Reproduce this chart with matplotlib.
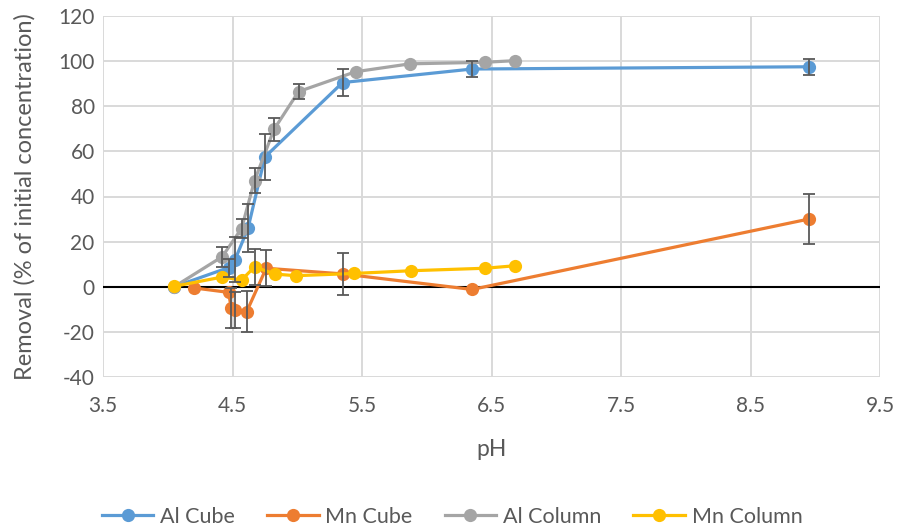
import matplotlib
matplotlib.use("Agg")
import matplotlib.pyplot as plt
from matplotlib.lines import Line2D

plt.rcParams['font.family'] = ['Lato', 'DejaVu Sans']
plt.rcParams['axes.unicode_minus'] = False

# pH values and removal (%) with standard deviations
al_cube_ph = [4.05, 4.47, 4.52, 4.62, 4.75, 5.35, 6.35, 8.95]
al_cube_rm = [0, 8.5, 12, 26, 57.5, 90.5, 96.5, 97.5]
al_cube_sd = [0, 4, 10, 10.5, 10, 6, 3.7, 3.5]

mn_cube_ph = [4.20, 4.47, 4.49, 4.52, 4.61, 4.76, 5.35, 6.35, 8.95]
mn_cube_rm = [-0.5, -2.5, -9.5, -10.3, -11, 8.2, 5.7, -1.2, 30]
mn_cube_sd = [0, 0, 9, 8, 9, 8, 9.3, 0, 11]

al_col_ph = [4.05, 4.42, 4.57, 4.67, 4.82, 5.01, 5.45, 5.87, 6.45, 6.68]
al_col_rm = [0, 13.3, 25.8, 47, 69.7, 86.5, 95.3, 98.8, 99.5, 100.2]
al_col_sd = [0, 4.5, 4.3, 5.5, 5, 3.5, 0, 0, 0, 0]

mn_col_ph = [4.05, 4.42, 4.57, 4.67, 4.83, 4.99, 5.44, 5.88, 6.45, 6.68]
mn_col_rm = [0.2, 4.3, 3, 8.8, 5.6, 4.9, 5.9, 7.1, 8.2, 9.3]
mn_col_sd = [0, 0, 0, 8, 0, 0, 0, 0, 0, 0]

series = [
    ("Al Cube", al_cube_ph, al_cube_rm, al_cube_sd, "#5b9bd5"),
    ("Mn Cube", mn_cube_ph, mn_cube_rm, mn_cube_sd, "#ed7d31"),
    ("Al Column", al_col_ph, al_col_rm, al_col_sd, "#a5a5a5"),
    ("Mn Column", mn_col_ph, mn_col_rm, mn_col_sd, "#ffc000"),
]

x_ticks = [3.5, 4.5, 5.5, 6.5, 7.5, 8.5, 9.5]
y_ticks = [-40, -20, 0, 20, 40, 60, 80, 100, 120]

fig = plt.figure(figsize=(8.99, 5.31), dpi=100)
ax = fig.add_axes([103 / 899, 1 - 377 / 531, (880 - 103) / 899, (377 - 16) / 531])

grid_c = "#d9d9d9"
for xv in x_ticks:
    ax.axvline(xv, color=grid_c, lw=1.4, zorder=0)
for yv in y_ticks:
    ax.axhline(yv, color=grid_c, lw=1.4, zorder=0)
ax.axhline(0, color="black", lw=1.5, zorder=1)

handles = []
for name, xs, ys, sd, col in series:
    ax.plot(xs, ys, color=col, lw=2.3, marker="o", ms=9.5,
            markeredgewidth=0, zorder=3)
    pts = [(a, b, c) for a, b, c in zip(xs, ys, sd) if c > 0]
    if pts:
        ex, ey, ee = zip(*pts)
        ax.errorbar(ex, ey, yerr=ee, fmt="none", ecolor="#595959",
                    elinewidth=1.3, capsize=4.5, capthick=1.3, zorder=4)
    handles.append(Line2D([0], [0], color=col, lw=2.3, marker="o", ms=9.5,
                          markeredgewidth=0))

ax.set_xlim(3.5, 9.5)
ax.set_ylim(-40, 120)
ax.set_xticks(x_ticks)
ax.set_xticklabels([f"{v:.1f}" for v in x_ticks])
ax.set_yticks(y_ticks)
ax.tick_params(length=0, labelsize=15, labelcolor="#595959")
ax.tick_params(axis="x", pad=14)
ax.tick_params(axis="y", pad=6)
for s in ax.spines.values():
    s.set_visible(False)

ax.set_xlabel("pH", fontsize=16.5, color="#595959", labelpad=16)
ax.set_ylabel("Removal (% of initial concentration)", fontsize=17,
              color="#595959", labelpad=16)

fig.legend(handles, [s[0] for s in series], loc="center",
           bbox_to_anchor=(452 / 899, 1 - 517 / 531), ncol=4, frameon=False,
           fontsize=15.5, labelcolor="#595959", handlelength=2.4,
           columnspacing=1.5, handletextpad=0.3)

fig.savefig("out.png", dpi=100)
